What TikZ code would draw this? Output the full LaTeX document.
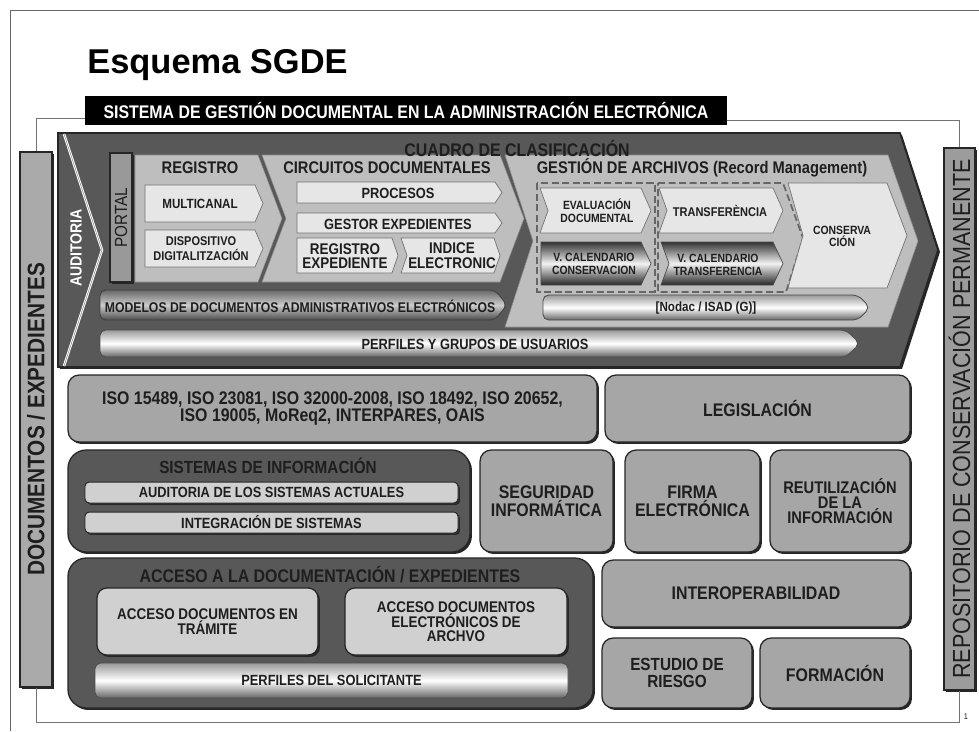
\documentclass[tikz,border=0pt]{standalone}
\usepackage{fontspec}
\setmainfont{Liberation Sans}[FakeStretch=0.87]
\newfontfamily\titlefont{Liberation Sans}
\usetikzlibrary{positioning,fit,shadows}
\definecolor{sgdark}{RGB}{88,88,88}
\definecolor{sgedge}{RGB}{38,38,38}
\definecolor{sgmid}{RGB}{166,166,166}
\definecolor{sglight}{RGB}{190,190,190}
\definecolor{sgsoft}{RGB}{208,208,208}
\definecolor{sgpale}{RGB}{230,230,230}
\definecolor{sgside}{RGB}{170,170,170}
\definecolor{sgink}{RGB}{30,30,30}

\newcommand{\fs}[2]{\fontsize{#1}{#2}\selectfont\bfseries}
% chevron: style, x1, y1, x2, y2, tip, notch
\newcommand{\chev}[7]{%
  \draw[#1] (#2,#3) -- ({#4-#6},#3) -- (#4,{(#3+#5)/2}) -- ({#4-#6},#5)
    -- (#2,#5) -- ({#2+#7},{(#3+#5)/2}) -- cycle;}

\begin{document}
\begin{tikzpicture}[x=0.025cm, y=-0.025cm,
    tile/.style={draw=sgedge, fill=sgmid, line width=0.9pt, rounded corners=8pt, inner sep=0pt,
                 drop shadow={shadow xshift=1.4pt, shadow yshift=-1.4pt, fill=black!85, opacity=1}},
    holder/.style={tile, fill=sgdark, rounded corners=13pt},
    strip/.style={tile, fill=sgsoft, rounded corners=3pt, line width=0.7pt,
                  drop shadow={shadow xshift=0.8pt, shadow yshift=-0.8pt, fill=black!80, opacity=1}},
    soft/.style={tile, fill=sgsoft, rounded corners=7pt},
    sidebar/.style={draw=sgedge, fill=sgside, line width=0.9pt, inner sep=0pt,
                 drop shadow={shadow xshift=1.4pt, shadow yshift=-1.4pt, fill=black!85, opacity=1}},
    zone/.style={fill=sglight, draw=black!45, line width=0.4pt},
    pale/.style={fill=sgpale, draw=black!55, line width=0.5pt},
    metal/.style={draw=black!70, line width=0.5pt, top color=black!80,
                  bottom color=black!85, middle color=black!5},
    tube/.style={draw=black!70, line width=0.6pt, rounded corners=4pt,
                 top color=black!40, bottom color=black!60, middle color=white},
    modbar/.style={draw=black!75, line width=0.6pt, rounded corners=4pt,
                   top color=black!60, bottom color=black!70, middle color=black!20},
    dashbox/.style={draw=black!60, line width=1.2pt, dash pattern=on 5pt off 2.5pt},
    lbl/.style={inner sep=0pt, align=center, text=sgink},
    frameline/.style={draw=black!55, line width=0.6pt}
  ]
  \path[use as bounding box, fill=white] (0,0) rectangle (979,731);
  \draw[black!60, line width=0.6pt] (10,731) -- (10,10) -- (979,10);

  \node[anchor=base west, inner sep=0pt,
        font={\titlefont\fontsize{24.5}{28}\selectfont\bfseries}] (title) at (87,73) {Esquema SGDE};
  \node[fill=black, inner sep=0pt, fit={(85,96) (727,125)}] (bar) {};
  \node[lbl, text=white, font=\fs{13}{15}] (bartxt) at (bar.center)
        {SISTEMA DE GESTIÓN DOCUMENTAL EN LA ADMINISTRACIÓN ELECTRÓNICA};

  % side columns
  \node[sidebar, fit={(20,152) (52,687)}] (docs) {};
  \node[lbl, rotate=90, font=\fs{17}{18}] (docstxt) at (docs.center) {DOCUMENTOS / EXPEDIENTES};
  \node[sidebar, fill=sgside!92!black, fit={(944,148) (975,690)}] (repo) {};
  \node[lbl, rotate=90, font=\fontsize{17.6}{19}\selectfont] (repotxt) at (repo.center)
        {REPOSITORIO DE CONSERVACIÓN PERMANENTE};

  \draw[frameline] ([yshift=-0.2cm]bar.west) -| (docs.north);
  \draw[frameline] ([yshift=-0.25cm]bar.east) -| (repo.north);
  \draw[frameline] (docs.south) -- ++(0,35) -| (repo.south);

  % cuadro de clasificacion
  \chev{fill=sgdark, draw=sgedge, line width=1.2pt,
        drop shadow={shadow xshift=1.4pt, shadow yshift=-1.4pt, fill=black!85, opacity=1}}{58}{133}{938}{367}{38}{0}
  \draw[white, line width=1.8pt] (64,134) -- (102,250) -- (64,366);
  \draw[black!45, line width=0.4pt] (64,134) -- (102,250) -- (64,366);
  \node[lbl, rotate=90, text=white, font=\fs{11.5}{13}] (auditoria) at (76,248) {AUDITORIA};

  \chev{zone}{135}{155}{282}{282}{24}{0}
  \chev{zone}{262}{155}{524}{282}{24}{24}
  \chev{zone}{505}{155}{918}{327}{30}{28}

  \node[sidebar, fill=black!40, fit={(110,153) (132,282)}] (portal) {};
  \node[lbl, rotate=90, font=\fontsize{12.5}{14}\selectfont] (portaltxt) at (portal.center) {PORTAL};

  \node[lbl, font=\fs{13}{15}] (cuadro) at (517,148) {CUADRO DE CLASIFICACIÓN};
  \node[lbl, font=\fs{12}{14}] (registro) at (200,168) {REGISTRO};
  \node[lbl, font=\fs{12}{14}] (circuitos) at (387,168) {CIRCUITOS DOCUMENTALES};
  \node[lbl, font=\fs{12}{14}] (gestion) at (702,168) {GESTIÓN DE ARCHIVOS (Record Management)};

  \chev{pale}{145}{185}{263}{222}{8}{0}
  \node[lbl, font=\fs{9.5}{10.5}] (multicanal) at (200,204) {MULTICANAL};
  \chev{pale}{145}{230}{263}{267}{8}{0}
  \node[lbl, font=\fs{9}{10.5}] (dispositivo) at (201,249) {DISPOSITIVO\\DIGITALITZACIÓN};
  \chev{pale}{297}{182}{502}{203}{7}{0}
  \node[lbl, font=\fs{10.5}{12}] (procesos) at (398,193) {PROCESOS};
  \chev{pale}{297}{213}{502}{233}{7}{0}
  \node[lbl, font=\fs{10.5}{12}] (gestor) at (398,224) {GESTOR EXPEDIENTES};
  \chev{pale}{297}{238}{398}{273}{6}{0}
  \node[lbl, font=\fs{11}{10.5}] (regexp) at (345,256) {REGISTRO\\EXPEDIENTE};
  \chev{pale}{401}{238}{500}{273}{6}{6}
  \node[lbl, font=\fs{11}{10.5}] (indice) at (452,256) {INDICE\\ELECTRONIC};

  \draw[dashbox] (537,183) rectangle (655,292);
  \draw[dashbox] (658,183) -- (783,183) -- (803,238) -- (786,292) -- (658,292) -- cycle;
  \chev{pale}{540}{188}{651}{233}{10}{8}
  \node[lbl, font=\fs{8.5}{9.5}] (evaluacion) at (597,211) {EVALUACIÓN\\DOCUMENTAL};
  \chev{metal}{541}{242}{651}{285}{10}{0}
  \node[lbl, font=\fs{8.5}{9.5}] (vcalcons) at (594,264) {V. CALENDARIO\\CONSERVACION};
  \chev{pale}{659}{188}{783}{233}{10}{8}
  \node[lbl, font=\fs{9}{10}] (transf) at (720,211) {TRANSFERÈNCIA};
  \chev{metal}{661}{242}{783}{285}{10}{8}
  \node[lbl, font=\fs{8.5}{9.5}] (vcaltransf) at (718,265) {V. CALENDARIO\\TRANSFERENCIA};
  \chev{pale}{788}{183}{907}{288}{20}{15}
  \node[lbl, font=\fs{8.5}{8.5}] (conserva) at (842,236) {CONSERVA\\CIÓN};

  \chev{modbar}{100}{290}{507}{320}{12}{0}
  \node[lbl, font=\fs{10}{11}] (modelos) at (300,306) {MODELOS DE DOCUMENTOS ADMINISTRATIVOS ELECTRÓNICOS};
  \chev{tube}{543}{295}{870}{320}{12}{0}
  \node[lbl, font=\fs{9.5}{11}] (nodac) at (706,308) {[Nodac / ISAD (G)]};
  \chev{tube}{100}{330}{860}{357}{14}{0}
  \node[lbl, font=\fs{10.5}{12}] (perfiles) at (475,344) {PERFILES Y GRUPOS DE USUARIOS};

  % bloques inferiores
  \node[tile, fit={(68,375) (597,442)}] (iso) {};
  \node[lbl, font=\fs{13}{10.7}] (isotxt) at (iso.center)
        {ISO 15489, ISO 23081, ISO 32000-2008, ISO 18492, ISO 20652,\\ISO 19005, MoReq2, INTERPARES, OAIS};
  \node[tile, fit={(605,375) (910,442)}] (legis) {};
  \node[lbl, font=\fs{13}{15}] (legistxt) at (legis.center) {LEGISLACIÓN};

  \node[holder, fit={(68,450) (470,552)}] (sistemas) {};
  \node[lbl, font=\fs{12.5}{14}] (sistemastxt) at (268,466) {SISTEMAS DE INFORMACIÓN};
  \node[strip, fit={(85,482) (458,503)}] (auditsis) {};
  \node[lbl, font=\fs{10.5}{12}] (auditsistxt) at (auditsis.center) {AUDITORIA DE LOS SISTEMAS ACTUALES};
  \node[strip, fit={(85,512) (458,533)}] (integ) {};
  \node[lbl, font=\fs{10.5}{12}] (integtxt) at (integ.center) {INTEGRACIÓN DE SISTEMAS};

  \node[tile, fit={(480,450) (613,552)}] (seguridad) {};
  \node[lbl, font=\fs{13}{10.7}] (seguridadtxt) at (seguridad.center) {SEGURIDAD\\INFORMÁTICA};
  \node[tile, fit={(625,450) (760,552)}] (firma) {};
  \node[lbl, font=\fs{13}{10.7}] (firmatxt) at (firma.center) {FIRMA\\ELECTRÓNICA};
  \node[tile, fit={(770,450) (910,552)}] (reutil) {};
  \node[lbl, font=\fs{12}{10.7}] (reutiltxt) at (reutil.center) {REUTILIZACIÓN\\DE LA\\INFORMACIÓN};

  \node[holder, fit={(68,558) (593,708)}] (acceso) {};
  \node[lbl, font=\fs{13}{15}] (accesotxt) at (330,575) {ACCESO A LA DOCUMENTACIÓN / EXPEDIENTES};
  \node[soft, fit={(97,588) (318,655)}] (acctram) {};
  \node[lbl, font=\fs{11}{8.5}] (acctramtxt) at (acctram.center) {ACCESO DOCUMENTOS EN\\TRÁMITE};
  \node[soft, fit={(345,588) (567,655)}] (accarch) {};
  \node[lbl, font=\fs{11}{9.5}] (accarchtxt) at (accarch.center) {ACCESO DOCUMENTOS\\ELECTRÓNICOS DE\\ARCHVO};
  \node[tube, inner sep=0pt, fit={(95,663) (568,698)}] (perfsol) {};
  \node[lbl, font=\fs{10.5}{12}] (perfsoltxt) at (perfsol.center) {PERFILES DEL SOLICITANTE};

  \node[tile, fit={(602,560) (910,627)}] (interop) {};
  \node[lbl, font=\fs{13}{15}] (interoptxt) at (interop.center) {INTEROPERABILIDAD};
  \node[tile, fit={(602,638) (752,708)}] (estudio) {};
  \node[lbl, font=\fs{12.5}{12}] (estudiotxt) at (estudio.center) {ESTUDIO DE\\RIESGO};
  \node[tile, fit={(760,638) (910,708)}] (formacion) {};
  \node[lbl, font=\fs{13}{15}] (formaciontxt) at (formacion.center) {FORMACIÓN};
  \node[lbl, font=\fontsize{6}{7}\selectfont] (pagenum) at (966,717) {1};
\end{tikzpicture}
\end{document}
